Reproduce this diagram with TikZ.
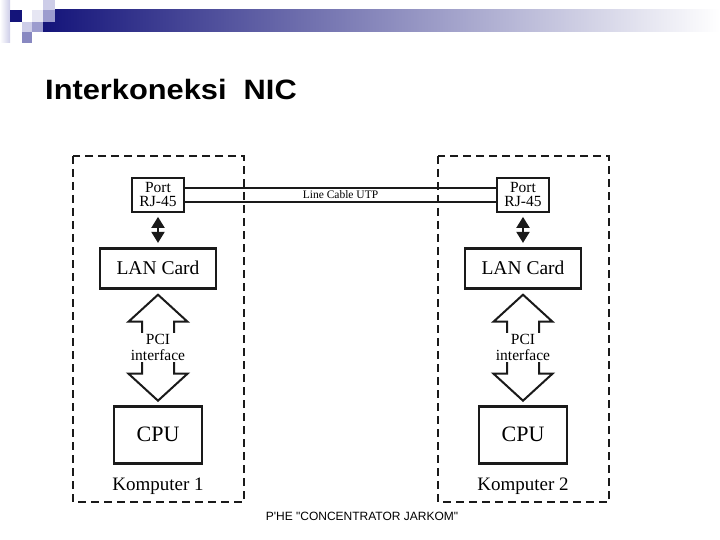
\documentclass[tikz,border=0pt]{standalone}
\usepackage{fontspec}
\setmainfont{Liberation Serif}
\newfontfamily\titlefont[FakeStretch=1.1]{Liberation Sans}
\newfontfamily\footfont[Ligatures=TeXOff]{Liberation Sans}
\usetikzlibrary{arrows.meta, positioning, calc}
\definecolor{HeadNavy}{HTML}{14147A}
\definecolor{HeadMid}{HTML}{9C9CCE}
\definecolor{HeadLight}{HTML}{CDCDE8}
\definecolor{HeadPale}{HTML}{E6E6F3}
\definecolor{LineDark}{HTML}{1A1A1A}

\begin{document}
\begin{tikzpicture}[
    x=1pt, y=-1pt,
    node distance=34pt and 34pt,
    portbox/.style={rectangle, draw=LineDark, line width=1.8pt, minimum width=52pt, minimum height=34pt, inner sep=1pt, align=center, font=\fontsize{15.5}{14}\selectfont},
    lanbox/.style={rectangle, draw=LineDark, line width=2.8pt, minimum width=116pt, minimum height=40pt, font=\fontsize{19.5}{22}\selectfont},
    cpubox/.style={lanbox, minimum width=88pt, minimum height=57pt, font=\fontsize{22}{24}\selectfont},
    pcname/.style={font=\fontsize{19}{21}\selectfont, inner sep=2pt},
    pcitext/.style={fill=white, align=center, inner sep=1.5pt, font=\fontsize{15.5}{16}\selectfont},
    pcframe/.style={draw=LineDark, line width=1.3pt, dash pattern=on 8pt off 5pt},
    cable/.style={draw=LineDark, line width=1.4pt},
    jack/.style={{Triangle[width=13pt,length=11pt]}-{Triangle[width=13pt,length=11pt]}, line width=2pt, LineDark, shorten <=4pt, shorten >=4pt},
    pci/.style={draw=LineDark, line width=2pt, fill=white, line join=miter}
  ]
    \useasboundingbox (0,0) rectangle (720,540);

    % Header
    \shade[left color=HeadNavy, right color=white] (43,10) rectangle (720,32);
    \shade[left color=white, right color=HeadLight] (0,0) rectangle (10,43);
    \fill[HeadNavy] (10,10) rectangle (22,22);
    \fill[HeadLight] (43,0) rectangle (55,10);
    \fill[HeadPale] (32,10) rectangle (43,22);
    \fill[HeadMid] (43,10) rectangle (55,22);
    \fill[HeadLight] (22,22) rectangle (32,32);
    \fill[HeadMid] (32,22) rectangle (43,32);
    \fill[HeadMid!85!HeadNavy] (22,32) rectangle (32,43);
    \node[anchor=base west, inner sep=0pt, font=\titlefont\bfseries\fontsize{28}{30}\selectfont] (title) at (45,100) {Interkoneksi\ \ NIC};

    % Nodes
    \node[portbox] (port1) at (158,195) {Port\\RJ-45};
    \node[lanbox, below=34pt of port1] (lan1) {LAN Card};
    \node[cpubox, below=115pt of lan1] (cpu1) {CPU};
    \node[pcname, below=11pt of cpu1] (name1) {Komputer 1};

    \node[portbox] (port2) at (523,195) {Port\\RJ-45};
    \node[lanbox, below=34pt of port2] (lan2) {LAN Card};
    \node[cpubox, below=115pt of lan2] (cpu2) {CPU};
    \node[pcname, below=11pt of cpu2] (name2) {Komputer 2};

    % Connections
    \draw[cable] ($(port1.east)+(0,-7)$) -- ($(port2.west)+(0,-7)$);
    \draw[cable] ($(port1.east)+(0,7)$) -- ($(port2.west)+(0,7)$);
    \node[font=\fontsize{11.5}{12}\selectfont, inner sep=1pt] (utp) at ($(port1.east)!0.5!(port2.west)$) {Line Cable UTP};

    \foreach \i in {1,2} {
      \draw[jack] (port\i) -- (lan\i);
      \coordinate (top\i) at ($(lan\i.south)+(0,5)$);
      \coordinate (bot\i) at ($(cpu\i.north)+(0,-4)$);
      \draw[pci] (top\i) -- ++(29.5,27) -- ++(-13.5,0) -- ($(bot\i)+(16,-27)$) -- ++(13.5,0) -- (bot\i) -- ++(-29.5,-27) -- ++(13.5,0) -- ($(top\i)+(-16,27)$) -- ++(-13.5,0) -- cycle;
      \node[pcitext] (pci\i) at ($(top\i)!0.5!(bot\i)$) {PCI\\interface};
    }

    % Frames
    \draw[pcframe] (73,156) rectangle (244,502);
    \draw[pcframe] (438,156) rectangle (609,502);

    \node[font=\footfont\fontsize{12}{14}\selectfont] (footer) at (362,516) {P'HE "CONCENTRATOR JARKOM"};
  \end{tikzpicture}
\end{document}
